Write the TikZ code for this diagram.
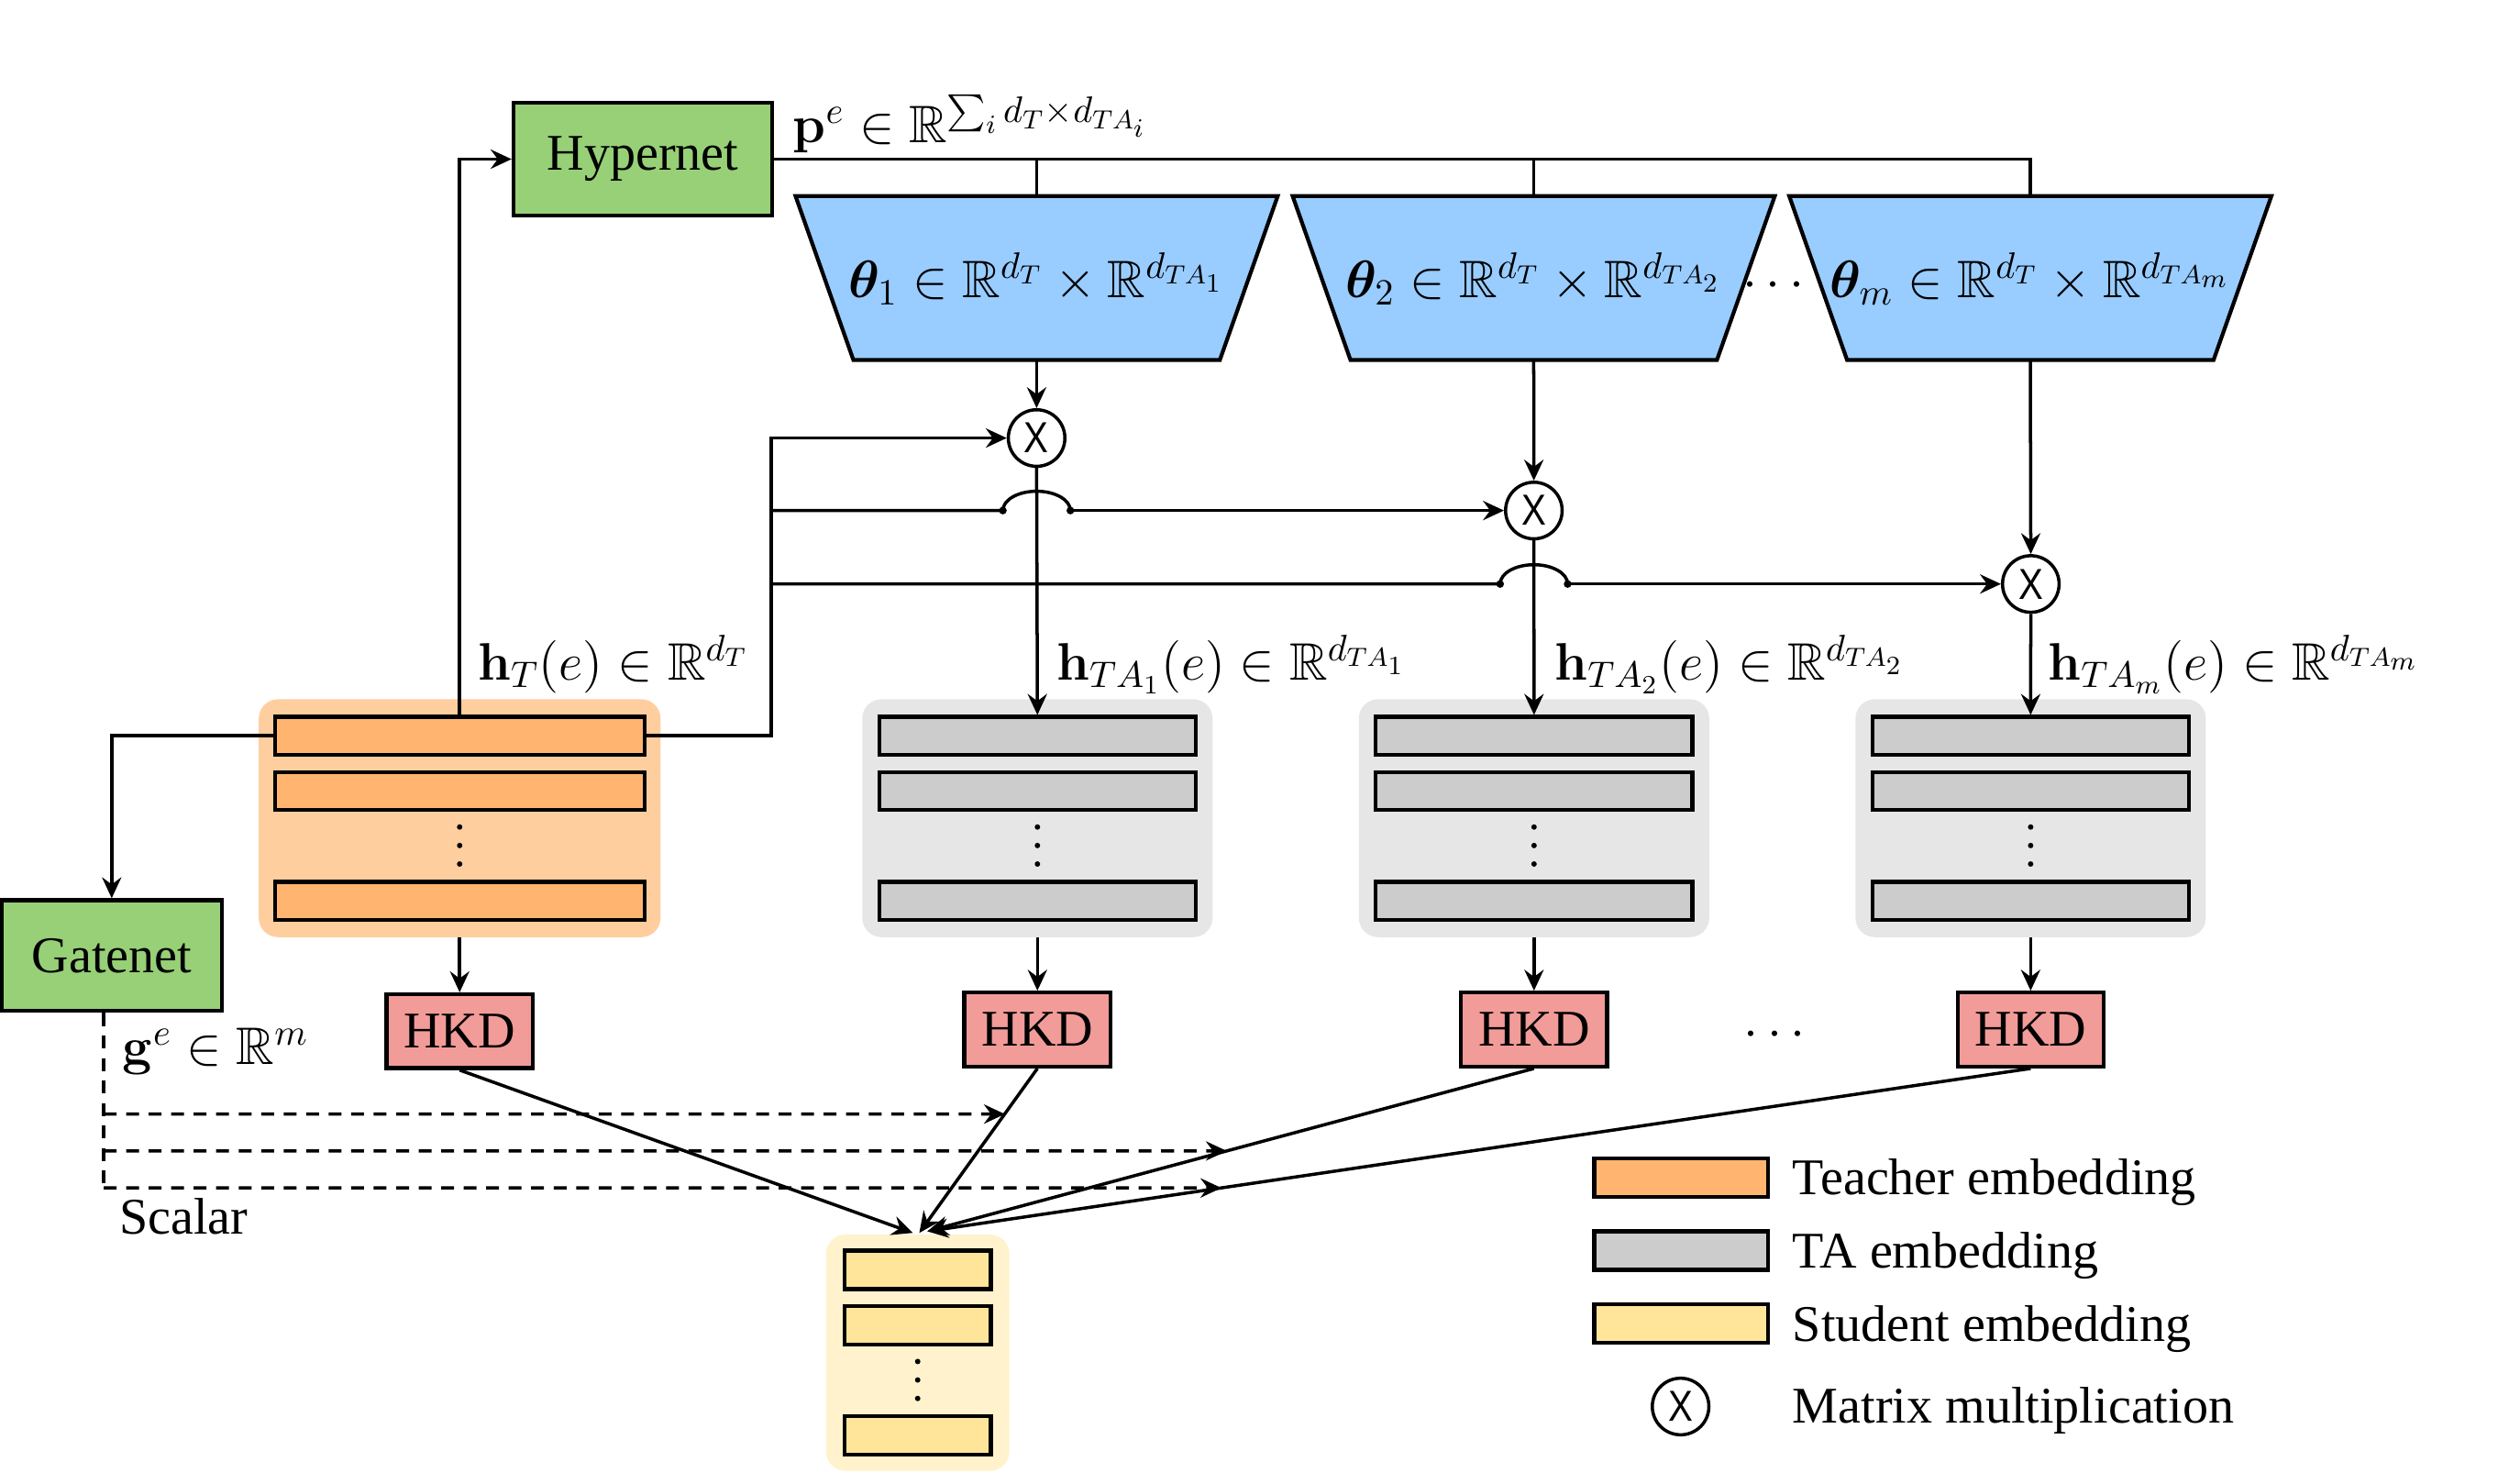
\RequirePackage{fix-cm}
\documentclass[tikz,border=0pt]{standalone}
\usepackage{amsmath,amssymb,bm}
\usepackage[no-math]{fontspec}
\setmainfont{Liberation Serif}
\newfontfamily\xsans[FakeStretch=0.85]{Liberation Sans}
\usetikzlibrary{arrows.meta,calc}
\definecolor{cgreen}{HTML}{97D077}
\definecolor{cblue}{HTML}{99CCFF}
\definecolor{cpink}{HTML}{F19C99}
\definecolor{corange}{HTML}{FFB570}
\definecolor{corangebg}{HTML}{FFCE9F}
\definecolor{cgray}{HTML}{CCCCCC}
\definecolor{cgraybg}{HTML}{E6E6E6}
\definecolor{cyellow}{HTML}{FFE599}
\definecolor{cyellowbg}{HTML}{FFF2CC}
\begin{document}
\begin{tikzpicture}[x=0.5pt,y=-0.5pt,
  conn/.style={line width=1pt},
  arr/.style={-{Stealth[length=6.5pt,width=6pt,inset=2.2pt]}},
  dsh/.style={line width=1pt, dash pattern=on 4pt off 3pt},
  txt/.style={font=\fontsize{16}{19}\selectfont},
  mfont/.style={font=\fontsize{16.4}{19}\selectfont},
  mth/.style={mfont, inner sep=0pt},
  frame/.style={draw, line width=1.2pt, inner sep=0pt},
  net/.style={frame, fill=cgreen, txt},
  hkd/.style={frame, fill=cpink, minimum width=45.5pt, minimum height=23pt, txt},
  grp/.style={rounded corners=6pt, inner sep=0pt, minimum height=74pt},
  tbar/.style={frame, fill=corange, minimum width=115pt, minimum height=11.75pt},
  abar/.style={frame, fill=cgray, minimum width=98.5pt, minimum height=11.75pt},
  sbar/.style={frame, fill=cyellow, minimum width=45.5pt, minimum height=12pt},
  trap/.style={line width=1.2pt, fill=cblue},
  trapn/.style={inner sep=0pt, minimum width=150pt, minimum height=51pt},
  mul/.style={circle, draw, line width=1pt, minimum size=17.6pt, inner sep=0pt, font=\xsans\fontsize{13.5}{15}\selectfont},
  lbl/.style={txt, anchor=base west, inner sep=0pt},
  mlbl/.style={mfont, anchor=base west, inner sep=0pt},
  hopdot/.style={fill=black}
]
\useasboundingbox (0,0) rectangle (1568,923);

% ---------- boxes ----------
\node[net, minimum width=80.5pt, minimum height=35pt] (hyper) at (400,99) {Hypernet};
\node[net, minimum width=68.5pt, minimum height=34.5pt] (gate) at (69.5,594.5) {Gatenet};

% trapezoids
\foreach \cx in {645,954.3,1263.3}{
  \draw[trap] (\cx-150,122) -- (\cx+150,122) -- (\cx+114,224) -- (\cx-114,224) -- cycle;
}
\node[trapn] (t1) at (645,173) {};
\node[trapn] (t2) at (954.3,173) {};
\node[trapn] (t3) at (1263.3,173) {};
\node[mth, anchor=base] (tl1) at (645,185) {$\bm{\theta}_1\in\mathbb{R}^{d_T}\times\mathbb{R}^{d_{TA_1}}$};
\node[mth, anchor=base] (tl2) at (954.3,185) {$\bm{\theta}_2\in\mathbb{R}^{d_T}\times\mathbb{R}^{d_{TA_2}}$};
\node[mth, anchor=base] (tl3) at (1263.3,185) {$\bm{\theta}_m\in\mathbb{R}^{d_T}\times\mathbb{R}^{d_{TA_m}}$};
\node[mth, anchor=base] (tdots) at (1106,185) {$\cdots$};

% multiplication circles
\node[mul] (c1) at (645,272.5) {X};
\node[mul] (c2) at (954.4,317.6) {X};
\node[mul] (c3) at (1263.6,363.3) {X};

% teacher group
\node[grp, fill=corangebg, minimum width=125pt] (tg) at (286,509) {};
\node[tbar] (tb1) at (286,457.7) {};
\node[tbar] (tb2) at (286,492) {};
\node[tbar] (tb3) at (286,560.4) {};
\coordinate (tv) at (286,526);

% TA groups
\node[grp, fill=cgraybg, minimum width=109pt] (ag1) at (645.5,509) {};
\node[abar] (a1b1) at (645.5,457.7) {};
\node[abar] (a1b2) at (645.5,492) {};
\node[abar] (a1b3) at (645.5,560.4) {};
\coordinate (a1v) at (645.5,526);

\node[grp, fill=cgraybg, minimum width=109pt] (ag2) at (954.5,509) {};
\node[abar] (a2b1) at (954.5,457.7) {};
\node[abar] (a2b2) at (954.5,492) {};
\node[abar] (a2b3) at (954.5,560.4) {};
\coordinate (a2v) at (954.5,526);

\node[grp, fill=cgraybg, minimum width=109pt] (ag3) at (1263.5,509) {};
\node[abar] (a3b1) at (1263.5,457.7) {};
\node[abar] (a3b2) at (1263.5,492) {};
\node[abar] (a3b3) at (1263.5,560.4) {};
\coordinate (a3v) at (1263.5,526);

% HKD
\node[hkd] (h0) at (286,641.5) {HKD};
\node[hkd] (h1) at (645.5,640.5) {HKD};
\node[hkd] (h2) at (954.5,640.5) {HKD};
\node[hkd] (h3) at (1263.5,640.5) {HKD};
\node[mth, anchor=base] (hdots) at (1107,651.5) {$\cdots$};

% student group
\node[grp, fill=cyellowbg, minimum width=57pt, minimum height=73.5pt] (sg) at (571,841.5) {};
\node[sbar] (sb1) at (571,790) {};
\node[sbar] (sb2) at (571,824.3) {};
\node[sbar] (sb3) at (571,893) {};
\coordinate (sv) at (571,858.5);

% vertical ellipses
\foreach \v in {tv,a1v,a2v,a3v,sv}{
  \foreach \dy in {-11.5,0,11.5}{\fill ($(\v)+(0,\dy)$) circle (0.85pt);}
}

% ---------- labels ----------
\node[mlbl] (lp) at (493,88.6) {$\mathbf{p}^{e}\in\mathbb{R}^{\sum_i d_T\times d_{TA_i}}$};
\node[mlbl] (lhT) at (297,423) {$\mathbf{h}_T(e)\in\mathbb{R}^{d_T}$};
\node[mlbl] (lh1) at (657,423) {$\mathbf{h}_{TA_1}(e)\in\mathbb{R}^{d_{TA_1}}$};
\node[mlbl] (lh2) at (967,423) {$\mathbf{h}_{TA_2}(e)\in\mathbb{R}^{d_{TA_2}}$};
\node[mlbl] (lhm) at (1274,423) {$\mathbf{h}_{TA_m}(e)\in\mathbb{R}^{d_{TA_m}}$};
\node[mlbl] (lg) at (76,662) {$\mathbf{g}^{e}\in\mathbb{R}^{m}$};
\node[lbl] (lsc) at (74,768) {Scalar};

% ---------- connectors ----------
\draw[conn] (hyper.east) -- (hyper.east -| t3.north) -- (t3.north);
\draw[conn] (hyper.east -| t1.north) -- (t1.north);
\draw[conn] (hyper.east -| t2.north) -- (t2.north);
\draw[conn,arr] (tb1.north) |- (hyper.west);
\draw[conn,arr] (tb1.west) -| (gate.north);
\draw[conn,arr] (t1.south) -- (c1.north);
\draw[conn,arr] (t2.south) -- (c2.north);
\draw[conn,arr] (t3.south) -- (c3.north);
\draw[conn,arr] (c1.south) -- (a1b1.north);
\draw[conn,arr] (c2.south) -- (a2b1.north);
\draw[conn,arr] (c3.south) -- (a3b1.north);
\coordinate (bx) at (480,457.7);
\draw[conn,arr] (tb1.east) -- (bx) |- (c1.west);
\coordinate (hopA) at ($(c1 |- c2)+(-21,0)$);
\coordinate (hopB) at ($(c1 |- c2)+(21,0)$);
\coordinate (hopC) at ($(c2 |- c3)+(-21,0)$);
\coordinate (hopD) at ($(c2 |- c3)+(21,0)$);
\draw[conn] (bx |- c2) -- (hopA) arc[start angle=180, end angle=0, x radius=10.5pt, y radius=6pt];
\draw[conn,arr] (hopB) -- (c2.west);
\draw[conn] (bx |- c3) -- (hopC) arc[start angle=180, end angle=0, x radius=10.5pt, y radius=6pt];
\draw[conn,arr] (hopD) -- (c3.west);
\foreach \p in {hopA,hopB,hopC,hopD}{\fill[hopdot] (\p) circle (1.2pt);}
\draw[conn,arr] (tg.south) -- (h0.north);
\draw[conn,arr] (ag1.south) -- (h1.north);
\draw[conn,arr] (ag2.south) -- (h2.north);
\draw[conn,arr] (ag3.south) -- (h3.north);
\coordinate (s1) at (568,767);
\coordinate (s2) at (572,767);
\coordinate (s3) at (577,766);
\coordinate (h1s) at (h1.south);
\coordinate (h2s) at (h2.south);
\coordinate (h3s) at (h3.south);
\draw[conn,arr] (h0.south) -- (s1);
\draw[conn,arr] (h1s) -- (s2);
\draw[conn,arr] (h2s) -- (s3);
\draw[conn,arr] (h3s) -- (s3);
\coordinate (gd) at ($(gate.south)+(-5,0)$);
\coordinate (d1) at (64.5,693);
\coordinate (d2) at (64.5,716);
\coordinate (d3) at (64.5,739);
\coordinate (e1) at (1200,693);
\coordinate (e2) at (1200,716);
\coordinate (e3) at (1200,739);
\draw[dsh] (gd) -- (d3);
\draw[dsh,arr] (d1) -- (intersection of d1--e1 and h1s--s2);
\draw[dsh,arr] (d2) -- (intersection of d2--e2 and h2s--s3);
\draw[dsh,arr] (d3) -- (intersection of d3--e3 and h3s--s3);

% ---------- legend ----------
\node[tbar, minimum width=54pt, minimum height=12pt] (lb1) at (1046,732.5) {};
\node[abar, minimum width=54pt, minimum height=12pt] (lb2) at (1046,778) {};
\node[sbar, minimum width=54pt, minimum height=12pt] (lb3) at (1046,823.5) {};
\node[mul] (lc) at (1045.7,875) {X};
\node[lbl] (lt1) at (1115,743.3) {Teacher embedding};
\node[lbl] (lt2) at (1115,789) {TA embedding};
\node[lbl] (lt3) at (1115,834.6) {Student embedding};
\node[lbl] (lt4) at (1115,885.4) {Matrix multiplication};
\end{tikzpicture}
\end{document}
